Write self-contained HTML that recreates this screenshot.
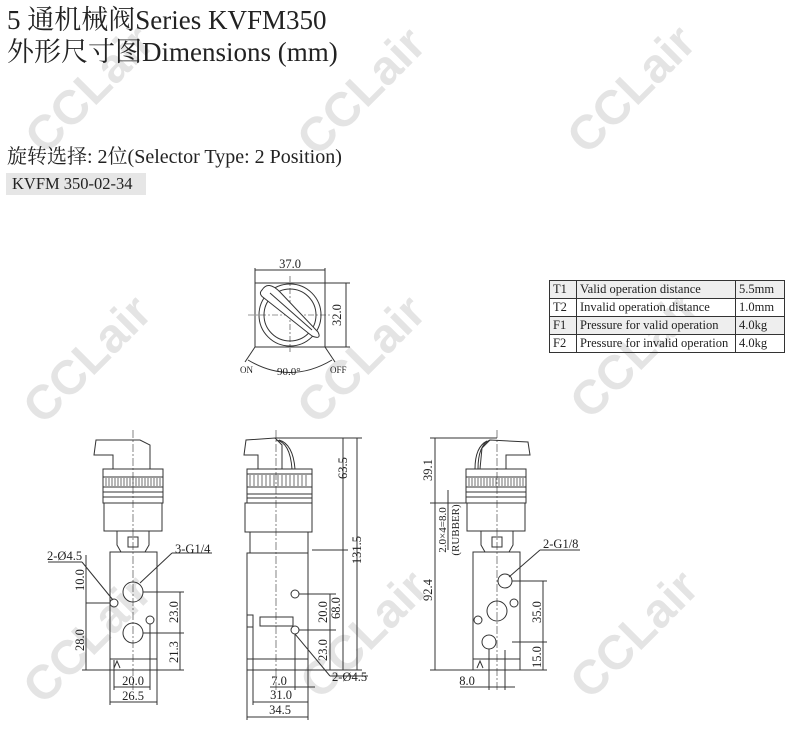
<!DOCTYPE html>
<html><head><meta charset="utf-8"><style>
body{margin:0;width:800px;height:735px;background:#fff;overflow:hidden;position:relative;font-family:"Liberation Serif","Noto Serif CJK SC",serif;color:#222}
.t{position:absolute;white-space:nowrap}
.wm{position:absolute;width:220px;height:56px;line-height:56px;text-align:center;font-family:"Liberation Sans",sans-serif;font-weight:bold;font-size:48px;color:#e4e4e4;transform:rotate(-45deg);white-space:nowrap}
table{position:absolute;left:549px;top:280px;border-collapse:collapse;font-size:12.5px;font-family:"Liberation Serif",serif}
td{border:1px solid #333;height:17px;padding:0 3px;line-height:17px}
tr.s td{background:#eee}
</style></head><body>
<div class="wm" style="left:-20px;top:62px">CCLair</div>
<div class="wm" style="left:252px;top:64px">CCLair</div>
<div class="wm" style="left:522px;top:62px">CCLair</div>
<div class="wm" style="left:-22px;top:332px">CCLair</div>
<div class="wm" style="left:252px;top:332px">CCLair</div>
<div class="wm" style="left:525px;top:327px">CCLair</div>
<div class="wm" style="left:-22px;top:612px">CCLair</div>
<div class="wm" style="left:255px;top:607px">CCLair</div>
<div class="wm" style="left:525px;top:607px">CCLair</div>

<div class="t" style="left:7px;top:4px;font-size:27px;line-height:32px">5 通机械阀Series KVFM350</div>
<div class="t" style="left:7px;top:36px;font-size:27px;line-height:32px">外形尺寸图Dimensions (mm)</div>
<div class="t" style="left:7px;top:145px;font-size:20px;line-height:24px">旋转选择: 2位(Selector Type: 2 Position)</div>
<div class="t" style="left:6px;top:173px;font-size:16.5px;line-height:22px;background:#e6e6e6;padding:0 6px;width:128px">KVFM 350-02-34</div>

<table>
<tr class="s"><td style="width:20px">T1</td><td style="width:152px">Valid operation distance</td><td style="width:42px">5.5mm</td></tr>
<tr><td>T2</td><td>Invalid operation distance</td><td>1.0mm</td></tr>
<tr class="s"><td>F1</td><td>Pressure for valid operation</td><td>4.0kg</td></tr>
<tr><td>F2</td><td>Pressure for invalid operation</td><td>4.0kg</td></tr>
</table>

<svg width="800" height="735" style="position:absolute;left:0;top:0" font-family="Liberation Serif,serif" font-size="12.5" fill="none" stroke="#333" stroke-width="1">
<!-- top view -->
<rect x="255" y="283" width="70" height="64"/>
<circle cx="290" cy="315" r="31"/><circle cx="290" cy="315" r="26"/>
<line x1="248" y1="315" x2="332" y2="315" stroke-dasharray="6,2,2,2" stroke-width="0.6"/>
<line x1="290" y1="276" x2="290" y2="352" stroke-dasharray="6,2,2,2" stroke-width="0.6"/>
<path d="M262 290 Q268 280 280 292 L318 332 Q322 340 312 336 L264 298 Q258 294 262 290Z" fill="#fff"/>
<line x1="270" y1="293" x2="312" y2="330"/>
<line x1="255" y1="270" x2="325" y2="270"/><line x1="255" y1="268" x2="255" y2="283"/><line x1="325" y1="268" x2="325" y2="283"/>
<line x1="346" y1="283" x2="346" y2="347"/><line x1="325" y1="283" x2="350" y2="283"/><line x1="325" y1="347" x2="350" y2="347"/>
<path d="M248 360 Q290 385 332 360"/>
<line x1="255" y1="347" x2="245" y2="362"/><line x1="325" y1="347" x2="335" y2="362"/>
<g fill="#222" stroke="none">
<text x="290" y="268" text-anchor="middle">37.0</text>
<text transform="translate(341,315) rotate(-90)" text-anchor="middle">32.0</text>
<text x="240" y="373" font-size="9">ON</text><text x="277" y="375" font-size="11">90.0°</text><text x="330" y="373" font-size="9">OFF</text>
</g>

<!-- front view -->
<g>
<path d="M94 455 L96 440 L140 440 L150 445 L150 469 L113 469 L113 455 Z"/>
<rect x="103" y="469" width="60" height="8"/>
<rect x="103" y="477" width="60" height="10"/>
<g stroke-width="0.7"><path d="M106 478v8M109 478v8M112 478v8M115 478v8M118 478v8M121 478v8M124 478v8M127 478v8M130 478v8M133 478v8M136 478v8M139 478v8M142 478v8M145 478v8M148 478v8M151 478v8M154 478v8M157 478v8M160 478v8"/></g>
<rect x="103" y="487" width="60" height="16"/><line x1="103" y1="492" x2="163" y2="492"/><line x1="103" y1="497" x2="163" y2="497"/>
<rect x="104" y="503" width="58" height="28"/>
<path d="M117 531 L117 545 L121 552 M149 531 L149 545 L145 552"/>
<rect x="128" y="537" width="10" height="10"/>
<rect x="110" y="552" width="47" height="118"/>
<line x1="110" y1="659" x2="157" y2="659"/>
<path d="M114 668 L117 661 L120 668"/>
<circle cx="133" cy="592" r="10"/><circle cx="133" cy="633" r="10"/>
<circle cx="114" cy="603" r="4"/><circle cx="150" cy="620" r="4"/>
<line x1="133" y1="430" x2="133" y2="690" stroke-dasharray="8,2,2,2" stroke-width="0.6"/>
<line x1="48" y1="562" x2="82" y2="562"/><line x1="82" y1="562" x2="113" y2="600"/>
<line x1="172" y1="553" x2="212" y2="553"/><line x1="172" y1="553" x2="140" y2="583"/>
<line x1="86" y1="555" x2="86" y2="670"/><line x1="86" y1="603" x2="110" y2="603"/><line x1="82" y1="670" x2="110" y2="670"/>
<line x1="180" y1="592" x2="180" y2="670"/><line x1="143" y1="592" x2="184" y2="592"/><line x1="143" y1="633" x2="184" y2="633"/><line x1="157" y1="670" x2="184" y2="670"/>
<line x1="114" y1="660" x2="114" y2="690"/><line x1="150" y1="624" x2="150" y2="690"/><line x1="114" y1="687" x2="150" y2="687"/>
<line x1="110" y1="670" x2="110" y2="705"/><line x1="157" y1="670" x2="157" y2="705"/><line x1="110" y1="702" x2="157" y2="702"/>
</g>
<g fill="#222" stroke="none">
<text x="47" y="560">2-Ø4.5</text><text x="175" y="553">3-G1/4</text>
<text transform="translate(84,580) rotate(-90)" text-anchor="middle">10.0</text>
<text transform="translate(84,640) rotate(-90)" text-anchor="middle">28.0</text>
<text transform="translate(178,612) rotate(-90)" text-anchor="middle">23.0</text>
<text transform="translate(178,652) rotate(-90)" text-anchor="middle">21.3</text>
<text x="133" y="685" text-anchor="middle">20.0</text><text x="133" y="700" text-anchor="middle">26.5</text>
</g>

<!-- side view -->
<g>
<path d="M244 455 L246 440 L275 438 L282 445 L282 469 L258 469 L258 455 Z"/>
<path d="M276 440 Q290 442 292 469"/><path d="M279 440 Q293 444 295 469"/>
<rect x="247" y="469" width="65" height="5"/>
<rect x="247" y="474" width="65" height="13"/>
<g stroke-width="0.7"><path d="M250 475v11M254 475v11M258 475v11M262 475v11M266 475v11M270 475v11M274 475v11M278 475v11M282 475v11M286 475v11M290 475v11M294 475v11M298 475v11M302 475v11M306 475v11"/></g>
<rect x="247" y="487" width="65" height="16"/><line x1="247" y1="494" x2="312" y2="494"/><line x1="247" y1="498" x2="312" y2="498"/>
<rect x="245" y="503" width="67" height="29"/>
<rect x="250" y="532" width="58" height="21"/>
<rect x="247" y="553" width="61" height="117"/><line x1="247" y1="659" x2="308" y2="659"/>
<rect x="260" y="617" width="33" height="9"/><rect x="247" y="615" width="6" height="12"/>
<circle cx="295" cy="594" r="4"/><circle cx="295" cy="630" r="4"/>
<line x1="276" y1="430" x2="276" y2="690" stroke-dasharray="8,2,2,2" stroke-width="0.6"/>
<line x1="275" y1="438" x2="362" y2="438"/><line x1="312" y1="550" x2="348" y2="550"/><line x1="308" y1="670" x2="362" y2="670"/>
<line x1="343" y1="438" x2="343" y2="670"/><line x1="357" y1="438" x2="357" y2="670"/>
<line x1="299" y1="594" x2="336" y2="594"/><line x1="299" y1="630" x2="336" y2="630"/>
<line x1="330" y1="594" x2="330" y2="670"/>
<line x1="295" y1="634" x2="330" y2="676"/><line x1="330" y1="676" x2="368" y2="676"/>
<line x1="295" y1="634" x2="295" y2="690"/><line x1="270" y1="687" x2="315" y2="687"/>
<line x1="253" y1="627" x2="253" y2="705"/><line x1="308" y1="670" x2="308" y2="720"/><line x1="253" y1="702" x2="308" y2="702"/>
<line x1="247" y1="670" x2="247" y2="720"/><line x1="247" y1="717" x2="308" y2="717"/>
</g>
<g fill="#222" stroke="none">
<text transform="translate(347,468) rotate(-90)" text-anchor="middle">63.5</text>
<text transform="translate(361,550) rotate(-90)" text-anchor="middle">131.5</text>
<text transform="translate(340,608) rotate(-90)" text-anchor="middle">68.0</text>
<text transform="translate(327,612) rotate(-90)" text-anchor="middle">20.0</text>
<text transform="translate(327,650) rotate(-90)" text-anchor="middle">23.0</text>
<text x="279" y="685" text-anchor="middle">7.0</text><text x="281" y="699" text-anchor="middle">31.0</text><text x="280" y="714" text-anchor="middle">34.5</text>
<text x="332" y="681">2-Ø4.5</text>
</g>

<!-- right view -->
<g>
<path d="M530 455 L528 442 L490 440 L482 448 L480 469 L506 469 L506 455 Z"/>
<path d="M490 440 Q478 445 478 469"/><path d="M487 441 Q475 447 475 469"/>
<rect x="466" y="469" width="60" height="8"/>
<rect x="466" y="477" width="60" height="10"/>
<g stroke-width="0.7"><path d="M469 478v8M472 478v8M475 478v8M478 478v8M481 478v8M484 478v8M487 478v8M490 478v8M493 478v8M496 478v8M499 478v8M502 478v8M505 478v8M508 478v8M511 478v8M514 478v8M517 478v8M520 478v8M523 478v8"/></g>
<rect x="466" y="487" width="60" height="16"/><line x1="466" y1="492" x2="526" y2="492"/><line x1="466" y1="497" x2="526" y2="497"/>
<rect x="467" y="503" width="58" height="28"/>
<path d="M481 531 L481 545 L485 552 M513 531 L513 545 L509 552"/>
<rect x="492" y="537" width="10" height="10"/>
<rect x="473" y="552" width="47" height="118"/><line x1="473" y1="659" x2="520" y2="659"/>
<path d="M477 668 L480 661 L483 668"/>
<circle cx="505" cy="581" r="7"/><circle cx="497" cy="611" r="10"/><circle cx="489" cy="642" r="7"/>
<circle cx="514" cy="603" r="4"/><circle cx="478" cy="620" r="4"/>
<line x1="497" y1="430" x2="497" y2="690" stroke-dasharray="8,2,2,2" stroke-width="0.6"/>
<line x1="430" y1="438" x2="497" y2="438"/><line x1="430" y1="670" x2="473" y2="670"/><line x1="430" y1="503" x2="466" y2="503"/>
<line x1="435" y1="438" x2="435" y2="670"/>
<line x1="448" y1="490" x2="448" y2="550"/>
<line x1="512" y1="581" x2="547" y2="581"/><line x1="512" y1="642" x2="547" y2="642"/><line x1="520" y1="670" x2="547" y2="670"/>
<line x1="543" y1="581" x2="543" y2="670"/>
<line x1="540" y1="550" x2="580" y2="550"/><line x1="540" y1="550" x2="509" y2="577"/>
<line x1="489" y1="649" x2="489" y2="690"/><line x1="505" y1="650" x2="505" y2="690"/><line x1="460" y1="687" x2="515" y2="687"/>
</g>
<g fill="#222" stroke="none">
<text transform="translate(432,470) rotate(-90)" text-anchor="middle">39.1</text>
<text transform="translate(432,590) rotate(-90)" text-anchor="middle">92.4</text>
<text transform="translate(446,530) rotate(-90)" text-anchor="middle" font-size="11">2.0×4=8.0</text>
<text transform="translate(459,530) rotate(-90)" text-anchor="middle" font-size="11">(RUBBER)</text>
<text x="543" y="548">2-G1/8</text>
<text transform="translate(541,612) rotate(-90)" text-anchor="middle">35.0</text>
<text transform="translate(541,657) rotate(-90)" text-anchor="middle">15.0</text>
<text x="467" y="685" text-anchor="middle">8.0</text>
</g>
</svg>
</body></html>
